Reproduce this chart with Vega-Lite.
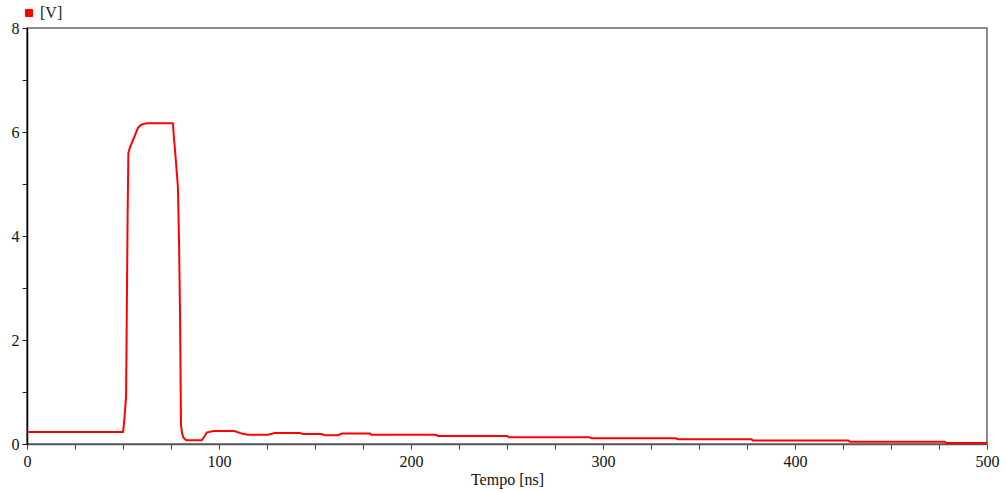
{
  "$schema": "https://vega.github.io/schema/vega-lite/v6.json",
  "autosize": {"type": "none"},
  "padding": {"left": 27, "top": 28, "right": 19, "bottom": 49},
  "width": 960,
  "height": 416,
  "background": "white",
  "config": {
    "view": {"stroke": "#666666", "strokeWidth": 1.5},
    "font": "Liberation Serif"
  },
  "data": {
    "values": [
      {"t": 0, "v": 0.23}, {"t": 50, "v": 0.23}, {"t": 50.5, "v": 0.38}, {"t": 51.6, "v": 0.9},
      {"t": 51.9, "v": 2.19}, {"t": 52.4, "v": 4.37}, {"t": 52.8, "v": 5.6}, {"t": 53.6, "v": 5.7},
      {"t": 57.8, "v": 6.08}, {"t": 59.5, "v": 6.14}, {"t": 62.3, "v": 6.17}, {"t": 76, "v": 6.17},
      {"t": 76.5, "v": 5.9}, {"t": 77.1, "v": 5.65}, {"t": 78.6, "v": 4.94}, {"t": 79.2, "v": 3.87},
      {"t": 79.7, "v": 2.52}, {"t": 80.2, "v": 0.37}, {"t": 80.8, "v": 0.2}, {"t": 81.5, "v": 0.12},
      {"t": 83, "v": 0.07}, {"t": 91, "v": 0.07}, {"t": 92.5, "v": 0.15}, {"t": 93.6, "v": 0.22},
      {"t": 97, "v": 0.25}, {"t": 108, "v": 0.25}, {"t": 111.8, "v": 0.2}, {"t": 115, "v": 0.18},
      {"t": 125.5, "v": 0.18}, {"t": 129, "v": 0.21}, {"t": 142, "v": 0.21}, {"t": 144, "v": 0.19},
      {"t": 153.5, "v": 0.19}, {"t": 155, "v": 0.17}, {"t": 162, "v": 0.17}, {"t": 164, "v": 0.2},
      {"t": 178.6, "v": 0.2}, {"t": 179.5, "v": 0.18}, {"t": 213, "v": 0.18}, {"t": 214, "v": 0.155},
      {"t": 250, "v": 0.155}, {"t": 251, "v": 0.13}, {"t": 293, "v": 0.13}, {"t": 294, "v": 0.11},
      {"t": 338, "v": 0.11}, {"t": 339, "v": 0.09}, {"t": 377.4, "v": 0.09}, {"t": 378, "v": 0.065},
      {"t": 427.8, "v": 0.065}, {"t": 428.5, "v": 0.045}, {"t": 478, "v": 0.045}, {"t": 479, "v": 0.02},
      {"t": 500, "v": 0.02}
    ]
  },
  "mark": {"type": "line", "strokeWidth": 2, "interpolate": "linear"},
  "encoding": {
    "x": {
      "field": "t", "type": "quantitative",
      "scale": {"domain": [0, 500], "nice": false, "zero": false},
      "axis": {
        "title": "Tempo [ns]",
        "titleFont": "Liberation Serif", "titleFontSize": 16, "titleFontWeight": "normal",
        "titleColor": "#111111", "titlePadding": 2,
        "values": [0, 25, 50, 75, 100, 125, 150, 175, 200, 225, 250, 275, 300, 325, 350, 375, 400, 425, 450, 475, 500],
        "labelExpr": "datum.value % 100 == 0 ? datum.label : ''",
        "labelFont": "Liberation Serif", "labelFontSize": 16, "labelColor": "#111111",
        "labelPadding": 4, "labelFlush": false, "labelOverlap": false,
        "tickSize": 5, "tickColor": "#444444", "domainColor": "#555555", "domainWidth": 1.5,
        "grid": false
      }
    },
    "y": {
      "field": "v", "type": "quantitative",
      "scale": {"domain": [0, 8], "nice": false},
      "axis": {
        "title": null,
        "values": [0, 1, 2, 3, 4, 5, 6, 7, 8],
        "labelExpr": "datum.value % 2 == 0 ? datum.label : ''",
        "labelFont": "Liberation Serif", "labelFontSize": 16, "labelColor": "#111111",
        "labelPadding": 3, "labelFlush": false, "labelOverlap": false,
        "tickSize": 5, "tickColor": "#222222", "domainColor": "#000000", "domainWidth": 1.5,
        "grid": false
      }
    },
    "color": {
      "datum": "[V]",
      "scale": {"range": ["#ff0000"]},
      "legend": {
        "title": null, "orient": "none", "legendX": -6, "legendY": -23,
        "symbolType": "square", "symbolSize": 50, "symbolFillColor": "#ff0000",
        "symbolStrokeColor": "#990000", "symbolStrokeWidth": 1,
        "labelFont": "Liberation Serif", "labelFontSize": 16, "labelColor": "#222222",
        "labelOffset": 3
      }
    }
  }
}
